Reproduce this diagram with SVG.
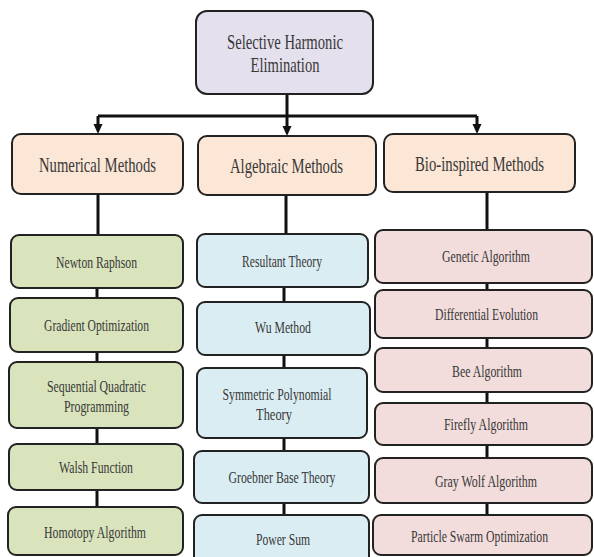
<svg xmlns="http://www.w3.org/2000/svg" width="594" height="557" viewBox="0 0 594 557">
<defs>
<style>
.box{stroke:#222;stroke-width:2}
.root{fill:#e5e0ee}
.cat{fill:#fce6d6}
.num{fill:#d9e4bd}
.alg{fill:#daedf3}
.bio{fill:#f2dcdc}
text{font-family:"Liberation Serif","Times New Roman",serif;fill:#383838;text-anchor:middle;dominant-baseline:central}
.big{font-size:20px}
.sm{font-size:17px}
.ln{stroke:#111;stroke-width:3;fill:none}
.ah{fill:#111}
</style>
</defs>
<rect width="594" height="557" fill="#ffffff"/>
<g id="connectors">
<path class="ln" d="M287,94 V116 M98,116 H477"/>
<path class="ln" d="M98,116 V126 M287,116 V126 M477,116 V126"/>
<polygon class="ah" points="93.5,124 102.5,124 98,134"/>
<polygon class="ah" points="282.5,126 291.5,126 287,136"/>
<polygon class="ah" points="472.5,124 481.5,124 477,134"/>
<path class="ln" d="M98,194 V235 M97,288 V298 M97,352 V362 M97,428 V444 M97,490 V507"/>
<path class="ln" d="M286,195 V234 M284,287 V302 M284,355 V368 M284,438 V451 M284,503 V515"/>
<path class="ln" d="M487,192 V230 M487,283 V290 M487,338 V348 M487,392 V403 M487,445 V458 M487,503 V515"/>
</g>
<g id="root"><rect class="box root" x="196" y="11" width="177" height="83" rx="11"/>
<text class="big" transform="translate(285,42.5) scale(0.75,1)" textLength="154.7" lengthAdjust="spacingAndGlyphs">Selective Harmonic</text>
<text class="big" transform="translate(285,65.5) scale(0.75,1)" textLength="92" lengthAdjust="spacingAndGlyphs">Elimination</text></g>
<g id="numerical"><rect class="box cat" x="12" y="134" width="171" height="60" rx="9"/>
<text class="big" transform="translate(97.5,165) scale(0.75,1)" textLength="156" lengthAdjust="spacingAndGlyphs">Numerical Methods</text></g>
<g id="algebraic"><rect class="box cat" x="198" y="136" width="178" height="59" rx="9"/>
<text class="big" transform="translate(286.5,166) scale(0.75,1)" textLength="150.7" lengthAdjust="spacingAndGlyphs">Algebraic Methods</text></g>
<g id="bio"><rect class="box cat" x="384" y="134" width="191" height="58" rx="9"/>
<text class="big" transform="translate(479.5,164) scale(0.75,1)" textLength="172" lengthAdjust="spacingAndGlyphs">Bio-inspired Methods</text></g>

<g id="newton"><rect class="box num" x="11" y="235" width="172" height="53" rx="8"/>
<text class="sm" transform="translate(96.5,262) scale(0.66,1)" textLength="122.7" lengthAdjust="spacingAndGlyphs">Newton Raphson</text></g>
<g id="gradient"><rect class="box num" x="10" y="298" width="173" height="54" rx="8"/>
<text class="sm" transform="translate(96.5,325) scale(0.66,1)" textLength="159.1" lengthAdjust="spacingAndGlyphs">Gradient Optimization</text></g>
<g id="sqp"><rect class="box num" x="9" y="362" width="174" height="66" rx="8"/>
<text class="sm" transform="translate(96.5,386) scale(0.66,1)" textLength="150" lengthAdjust="spacingAndGlyphs">Sequential Quadratic</text>
<text class="sm" transform="translate(96.5,406) scale(0.66,1)" textLength="98.5" lengthAdjust="spacingAndGlyphs">Programming</text></g>
<g id="walsh"><rect class="box num" x="9" y="444" width="174" height="46" rx="8"/>
<text class="sm" transform="translate(96,467) scale(0.66,1)" textLength="112.1" lengthAdjust="spacingAndGlyphs">Walsh Function</text></g>
<g id="homotopy"><rect class="box num" x="8" y="507" width="175" height="48" rx="8"/>
<text class="sm" transform="translate(95,532) scale(0.66,1)" textLength="154.5" lengthAdjust="spacingAndGlyphs">Homotopy Algorithm</text></g>

<g id="resultant"><rect class="box alg" x="197" y="234" width="171" height="53" rx="8"/>
<text class="sm" transform="translate(282,261) scale(0.66,1)" textLength="121.2" lengthAdjust="spacingAndGlyphs">Resultant Theory</text></g>
<g id="wu"><rect class="box alg" x="197" y="302" width="173" height="53" rx="8"/>
<text class="sm" transform="translate(283,327) scale(0.66,1)" textLength="84.8" lengthAdjust="spacingAndGlyphs">Wu Method</text></g>
<g id="symmetric"><rect class="box alg" x="197" y="368" width="170" height="70" rx="8"/>
<text class="sm" transform="translate(277,394) scale(0.66,1)" textLength="165.2" lengthAdjust="spacingAndGlyphs">Symmetric Polynomial</text>
<text class="sm" transform="translate(274,414) scale(0.66,1)" textLength="54.5" lengthAdjust="spacingAndGlyphs">Theory</text></g>
<g id="groebner"><rect class="box alg" x="194" y="451" width="175" height="52" rx="8"/>
<text class="sm" transform="translate(282,477) scale(0.66,1)" textLength="162.1" lengthAdjust="spacingAndGlyphs">Groebner Base Theory</text></g>
<g id="powersum"><rect class="box alg" x="194" y="515" width="175" height="50" rx="8"/>
<text class="sm" transform="translate(283,539) scale(0.66,1)" textLength="81.8" lengthAdjust="spacingAndGlyphs">Power Sum</text></g>

<g id="genetic"><rect class="box bio" x="375" y="230" width="217" height="53" rx="8"/>
<text class="sm" transform="translate(486,256) scale(0.66,1)" textLength="133.3" lengthAdjust="spacingAndGlyphs">Genetic Algorithm</text></g>
<g id="differential"><rect class="box bio" x="375" y="290" width="217" height="48" rx="8"/>
<text class="sm" transform="translate(486.5,314) scale(0.66,1)" textLength="156.1" lengthAdjust="spacingAndGlyphs">Differential Evolution</text></g>
<g id="bee"><rect class="box bio" x="375" y="348" width="217" height="44" rx="8"/>
<text class="sm" transform="translate(487,371) scale(0.66,1)" textLength="106.1" lengthAdjust="spacingAndGlyphs">Bee Algorithm</text></g>
<g id="firefly"><rect class="box bio" x="375" y="403" width="217" height="42" rx="8"/>
<text class="sm" transform="translate(486,424) scale(0.66,1)" textLength="127.3" lengthAdjust="spacingAndGlyphs">Firefly Algorithm</text></g>
<g id="graywolf"><rect class="box bio" x="375" y="458" width="217" height="45" rx="8"/>
<text class="sm" transform="translate(486,481) scale(0.66,1)" textLength="154.5" lengthAdjust="spacingAndGlyphs">Gray Wolf Algorithm</text></g>
<g id="pso"><rect class="box bio" x="373" y="515" width="219" height="40" rx="8"/>
<text class="sm" transform="translate(479.5,536) scale(0.66,1)" textLength="207.6" lengthAdjust="spacingAndGlyphs">Particle Swarm Optimization</text></g>
</svg>
